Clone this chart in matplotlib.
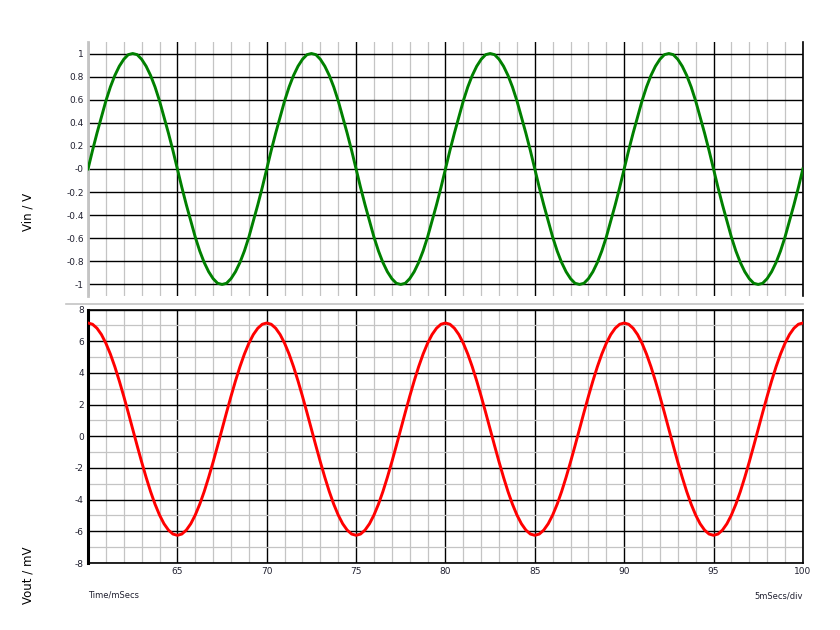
import numpy as np
import matplotlib
matplotlib.use("Agg")
import matplotlib.pyplot as plt
from matplotlib.ticker import MultipleLocator, FixedLocator, FixedFormatter

# time axis in ms, sampled every 0.25 ms
time_ms = np.arange(60, 100.001, 0.25)

# input voltage (V)
vin = [
    0, 0.16, 0.31, 0.45, 0.59, 0.71, 0.81, 0.89, 0.95, 0.99,
    1.0, 0.99, 0.95, 0.89, 0.81, 0.71, 0.59, 0.45, 0.31, 0.16,
    0, -0.16, -0.31, -0.45, -0.59, -0.71, -0.81, -0.89, -0.95, -0.99,
    -1.0, -0.99, -0.95, -0.89, -0.81, -0.71, -0.59, -0.45, -0.31, -0.16,
    0, 0.16, 0.31, 0.45, 0.59, 0.71, 0.81, 0.89, 0.95, 0.99,
    1.0, 0.99, 0.95, 0.89, 0.81, 0.71, 0.59, 0.45, 0.31, 0.16,
    0, -0.16, -0.31, -0.45, -0.59, -0.71, -0.81, -0.89, -0.95, -0.99,
    -1.0, -0.99, -0.95, -0.89, -0.81, -0.71, -0.59, -0.45, -0.31, -0.16,
    0, 0.16, 0.31, 0.45, 0.59, 0.71, 0.81, 0.89, 0.95, 0.99,
    1.0, 0.99, 0.95, 0.89, 0.81, 0.71, 0.59, 0.45, 0.31, 0.16,
    0, -0.16, -0.31, -0.45, -0.59, -0.71, -0.81, -0.89, -0.95, -0.99,
    -1.0, -0.99, -0.95, -0.89, -0.81, -0.71, -0.59, -0.45, -0.31, -0.16,
    0, 0.16, 0.31, 0.45, 0.59, 0.71, 0.81, 0.89, 0.95, 0.99,
    1.0, 0.99, 0.95, 0.89, 0.81, 0.71, 0.59, 0.45, 0.31, 0.16,
    0, -0.16, -0.31, -0.45, -0.59, -0.71, -0.81, -0.89, -0.95, -0.99,
    -1.0, -0.99, -0.95, -0.89, -0.81, -0.71, -0.59, -0.45, -0.31, -0.16,
    0,
]

# output voltage (mV)
vout = [
    7.15, 7.07, 6.82, 6.42, 5.87, 5.19, 4.39, 3.49, 2.52, 1.50,
    0.45, -0.60, -1.62, -2.59, -3.49, -4.29, -4.97, -5.52, -5.92, -6.17,
    -6.25, -6.17, -5.92, -5.52, -4.97, -4.29, -3.49, -2.59, -1.62, -0.60,
    0.45, 1.50, 2.52, 3.49, 4.39, 5.19, 5.87, 6.42, 6.82, 7.07,
    7.15, 7.07, 6.82, 6.42, 5.87, 5.19, 4.39, 3.49, 2.52, 1.50,
    0.45, -0.60, -1.62, -2.59, -3.49, -4.29, -4.97, -5.52, -5.92, -6.17,
    -6.25, -6.17, -5.92, -5.52, -4.97, -4.29, -3.49, -2.59, -1.62, -0.60,
    0.45, 1.50, 2.52, 3.49, 4.39, 5.19, 5.87, 6.42, 6.82, 7.07,
    7.15, 7.07, 6.82, 6.42, 5.87, 5.19, 4.39, 3.49, 2.52, 1.50,
    0.45, -0.60, -1.62, -2.59, -3.49, -4.29, -4.97, -5.52, -5.92, -6.17,
    -6.25, -6.17, -5.92, -5.52, -4.97, -4.29, -3.49, -2.59, -1.62, -0.60,
    0.45, 1.50, 2.52, 3.49, 4.39, 5.19, 5.87, 6.42, 6.82, 7.07,
    7.15, 7.07, 6.82, 6.42, 5.87, 5.19, 4.39, 3.49, 2.52, 1.50,
    0.45, -0.60, -1.62, -2.59, -3.49, -4.29, -4.97, -5.52, -5.92, -6.17,
    -6.25, -6.17, -5.92, -5.52, -4.97, -4.29, -3.49, -2.59, -1.62, -0.60,
    0.45, 1.50, 2.52, 3.49, 4.39, 5.19, 5.87, 6.42, 6.82, 7.07,
    7.15,
]

vin_ticks = [-1, -0.8, -0.6, -0.4, -0.2, 0, 0.2, 0.4, 0.6, 0.8, 1]
vin_labels = ["-1", "-0.8", "-0.6", "-0.4", "-0.2", "-0", "0.2", "0.4", "0.6", "0.8", "1"]
vout_ticks = [-8, -6, -4, -2, 0, 2, 4, 6, 8]
vout_labels = ["-8", "-6", "-4", "-2", "0", "2", "4", "6", "8"]
x_ticks = [60, 65, 70, 75, 80, 85, 90, 95, 100]
x_labels = ["", "65", "70", "75", "80", "85", "90", "95", "100"]

GREY = "#c4c4c4"
TXT = "#202030"

fig = plt.figure(figsize=(8.4, 6.3), dpi=100)
ax1 = fig.add_axes([0.1048, 0.5302, 0.851, 0.4032])
ax2 = fig.add_axes([0.1048, 0.1063, 0.851, 0.4024])

for ax in (ax1, ax2):
    ax.set_xlim(60, 100)
    ax.xaxis.set_major_locator(FixedLocator(x_ticks))
    ax.xaxis.set_minor_locator(MultipleLocator(1))
    ax.grid(True, which="major", axis="x", color="black", lw=1.0, zorder=1)
    ax.grid(True, which="minor", axis="x", color=GREY, lw=0.9, zorder=0)
    ax.tick_params(which="both", length=0, labelsize=6.5, labelcolor=TXT, pad=3)
    ax.set_axisbelow(True)

# top panel
ax1.plot(time_ms, vin, color="#008000", lw=2.1, zorder=3)
ax1.set_ylim(-1.1, 1.1)
ax1.yaxis.set_major_locator(FixedLocator(vin_ticks))
ax1.yaxis.set_major_formatter(FixedFormatter(vin_labels))
ax1.grid(True, which="major", axis="y", color="black", lw=1.0)
ax1.set_xticklabels([])
ax1.spines["top"].set_visible(False)
ax1.spines["bottom"].set_visible(False)
ax1.spines["left"].set_color(GREY)
ax1.spines["left"].set_linewidth(2)
ax1.spines["right"].set_linewidth(1.2)

# bottom panel
ax2.plot(time_ms, vout, color="#ff0000", lw=2.1, zorder=3)
ax2.set_ylim(-8, 8)
ax2.yaxis.set_major_locator(FixedLocator(vout_ticks))
ax2.yaxis.set_major_formatter(FixedFormatter(vout_labels))
ax2.yaxis.set_minor_locator(MultipleLocator(1))
ax2.grid(True, which="major", axis="y", color="black", lw=1.0)
ax2.grid(True, which="minor", axis="y", color=GREY, lw=0.9)
ax2.xaxis.set_major_formatter(FixedFormatter(x_labels))
ax2.spines["left"].set_linewidth(2.2)
for s in ("top", "bottom", "right"):
    ax2.spines[s].set_linewidth(1.2)

# separator line between panels
fig.add_artist(plt.Line2D([66 / 840, 803 / 840], [1 - 303.5 / 630] * 2,
                          color=GREY, lw=1.2))

fig.text(28 / 840, 1 - 212 / 630, "Vin / V", rotation=90, ha="center", va="center",
         fontsize=8.5, color="black")
fig.text(28 / 840, 1 - 575 / 630, "Vout / mV", rotation=90, ha="center", va="center",
         fontsize=8.5, color="black")
fig.text(88 / 840, 1 - 595 / 630, "Time/mSecs", ha="left", va="center",
         fontsize=6, color=TXT)
fig.text(803 / 840, 1 - 596 / 630, "5mSecs/div", ha="right", va="center",
         fontsize=6, color=TXT)

fig.savefig("out.png", dpi=100)
